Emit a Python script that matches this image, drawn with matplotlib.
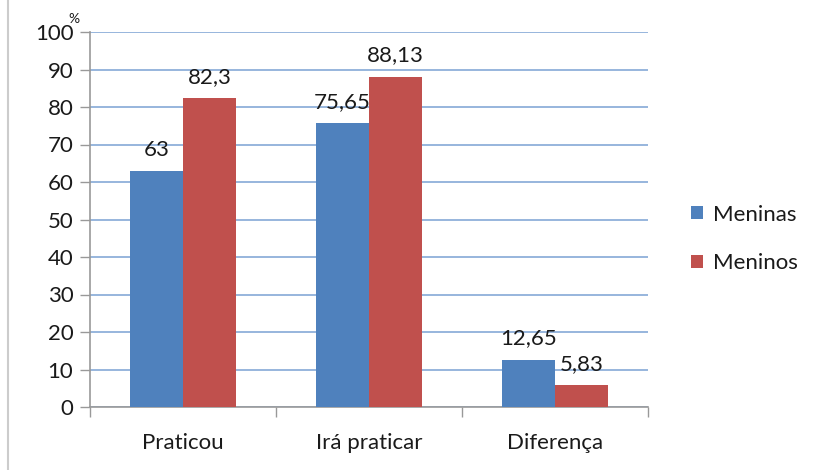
import numpy as np
import matplotlib
matplotlib.use("Agg")
import matplotlib.pyplot as plt
from matplotlib.lines import Line2D

plt.rcParams["font.family"] = ["Lato", "DejaVu Sans"]

categories = ["Praticou", "Irá praticar", "Diferença"]
meninas = [63, 75.65, 12.65]
meninos = [82.3, 88.13, 5.83]
labels_meninas = ["63", "75,65", "12,65"]
labels_meninos = ["82,3", "88,13", "5,83"]
series_names = ["Meninas", "Meninos"]

blue = "#4F81BD"
red = "#C0504D"
grid_col = "#8FB0DA"
txt = "#1a1a1a"
fs = 16

fig = plt.figure(figsize=(8.17, 4.70), dpi=100)
ax = fig.add_axes([90 / 817, 63 / 470, 558 / 817, 375 / 470])

x = np.arange(len(categories))
w = 0.285
b1 = ax.bar(x - w / 2, meninas, w, color=blue, label=series_names[0], zorder=3)
b2 = ax.bar(x + w / 2, meninos, w, color=red, label=series_names[1], zorder=3)

for bars, labs in [(b1, labels_meninas), (b2, labels_meninos)]:
    for rect, lab in zip(bars, labs):
        ax.text(rect.get_x() + rect.get_width() / 2, rect.get_height() + 3.0, lab,
                ha="center", va="bottom", fontsize=fs, color=txt)

ax.set_xlim(-0.5, 2.5)
ax.set_ylim(0, 100)
ax.set_yticks(np.arange(0, 101, 10))
ax.set_yticklabels([str(v) for v in range(0, 101, 10)], fontsize=fs, color=txt)
ax.yaxis.grid(True, color=grid_col, linewidth=1.3, zorder=0)
ax.set_axisbelow(True)

# category labels centred, tick marks at boundaries
ax.set_xticks(x)
ax.set_xticklabels(categories, fontsize=fs, color=txt)
ax.tick_params(axis="x", length=0, pad=19)
ax.set_xticks(np.arange(-0.5, 3.0, 1.0), minor=True)
ax.tick_params(axis="x", which="minor", length=7, color="#999999", width=1)
ax.tick_params(axis="y", length=7, color="#999999", width=1, pad=5)

for s in ["top", "right"]:
    ax.spines[s].set_visible(False)
ax.spines["left"].set_color("#999999")
ax.spines["bottom"].set_color("#999999")
ax.spines["left"].set_linewidth(1.2)
ax.spines["bottom"].set_linewidth(1.2)

fig.text(68 / 817, 1 - 19 / 470, "%", fontsize=10, color=txt, ha="left", va="center")

leg = fig.legend(handles=[b1, b2], labels=series_names, loc="center left",
                 bbox_to_anchor=(671 / 817, 1 - 239 / 470), frameon=False,
                 fontsize=fs, handlelength=0.55, handleheight=0.55,
                 handletextpad=0.45, labelspacing=1.3)
for t in leg.get_texts():
    t.set_color(txt)

fig.add_artist(Line2D([8 / 817, 8 / 817], [0, 1], transform=fig.transFigure,
                      color="#cccccc", linewidth=1.5))

fig.savefig("out.png", dpi=100)
